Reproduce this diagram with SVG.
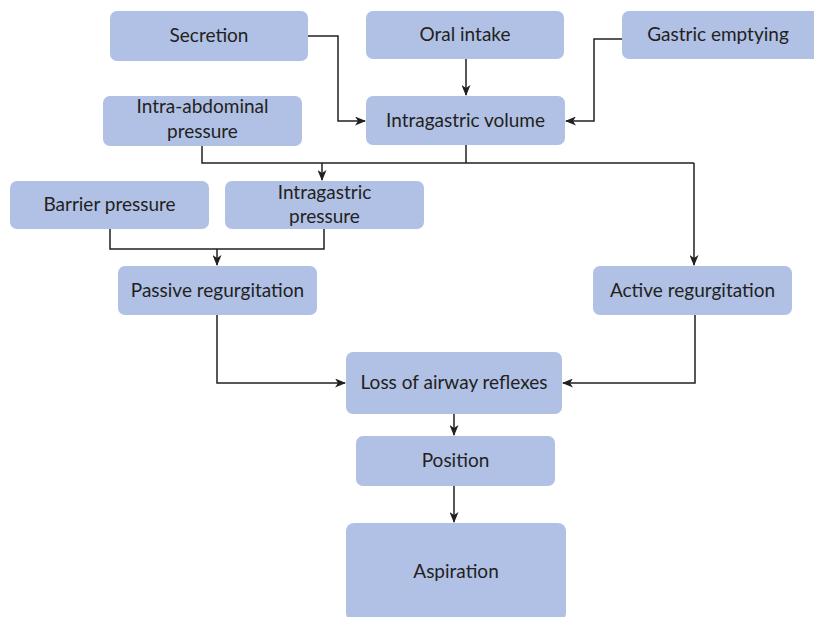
<svg xmlns="http://www.w3.org/2000/svg" width="814" height="617" viewBox="0 0 814 617">
  <defs>
    <marker id="arr" markerWidth="11" markerHeight="9" refX="10" refY="4.5" orient="auto" markerUnits="userSpaceOnUse">
      <path d="M0,0 L11,4.5 L0,9 L3,4.5 Z" fill="#231f20"/>
    </marker>
    <style>
      .box { fill: #b0c1e5; }
      .lbl { font-family: Lato, "Open Sans", sans-serif; font-size: 19px; fill: #231f20; text-anchor: middle; }
      .ln { fill: none; stroke: #231f20; stroke-width: 1.5; }
      .ar { marker-end: url(#arr); }
    </style>
  </defs>
  <rect width="814" height="617" fill="#ffffff"/>

  <g id="connectors">
    <path class="ln ar" d="M308,36 H338 V121 H365"/>
    <path class="ln ar" d="M466,59 V95"/>
    <path class="ln ar" d="M622,39 H594 V121 H566"/>
    <path class="ln" d="M202,146 V163 H694"/>
    <path class="ln" d="M466,145 V163"/>
    <path class="ln ar" d="M694,163 V265"/>
    <path class="ln ar" d="M322,163 V180"/>
    <path class="ln" d="M110,229 V249 H324 V229"/>
    <path class="ln ar" d="M217,249 V265"/>
    <path class="ln ar" d="M217,315 V383 H345"/>
    <path class="ln ar" d="M695,315 V383 H563"/>
    <path class="ln ar" d="M454,414 V435"/>
    <path class="ln ar" d="M454,486 V522"/>
  </g>

  <g id="secretion">
    <rect class="box" x="110" y="11" width="198" height="50" rx="7"/>
    <text class="lbl" x="209" y="42">Secretion</text>
  </g>
  <g id="oral-intake">
    <rect class="box" x="366" y="11" width="198" height="48" rx="7"/>
    <text class="lbl" x="465" y="41">Oral intake</text>
  </g>
  <g id="gastric-emptying">
    <rect class="box" x="622" y="11" width="198" height="48" rx="7"/>
    <text class="lbl" x="718" y="41">Gastric emptying</text>
  </g>
  <g id="intra-abdominal-pressure">
    <rect class="box" x="103" y="96" width="199" height="50" rx="7"/>
    <text class="lbl" x="202.5" y="113">Intra-abdominal</text>
    <text class="lbl" x="202.5" y="138">pressure</text>
  </g>
  <g id="intragastric-volume">
    <rect class="box" x="366" y="96" width="199" height="49" rx="7"/>
    <text class="lbl" x="465.5" y="127">Intragastric volume</text>
  </g>
  <g id="barrier-pressure">
    <rect class="box" x="10" y="181" width="199" height="48" rx="7"/>
    <text class="lbl" x="109.5" y="211">Barrier pressure</text>
  </g>
  <g id="intragastric-pressure">
    <rect class="box" x="225" y="181" width="199" height="48" rx="7"/>
    <text class="lbl" x="324.5" y="199">Intragastric</text>
    <text class="lbl" x="324.5" y="223">pressure</text>
  </g>
  <g id="passive-regurgitation">
    <rect class="box" x="118" y="266" width="199" height="49" rx="7"/>
    <text class="lbl" x="217.5" y="297">Passive regurgitation</text>
  </g>
  <g id="active-regurgitation">
    <rect class="box" x="593" y="266" width="199" height="49" rx="7"/>
    <text class="lbl" x="692.5" y="297">Active regurgitation</text>
  </g>
  <g id="loss-of-airway-reflexes">
    <rect class="box" x="346" y="352" width="216" height="62" rx="7"/>
    <text class="lbl" x="454" y="389">Loss of airway reflexes</text>
  </g>
  <g id="position">
    <rect class="box" x="356" y="436" width="199" height="50" rx="7"/>
    <text class="lbl" x="455.5" y="467">Position</text>
  </g>
  <g id="aspiration">
    <rect class="box" x="346" y="523" width="220" height="98" rx="8"/>
    <text class="lbl" x="456" y="578">Aspiration</text>
  </g>
</svg>
